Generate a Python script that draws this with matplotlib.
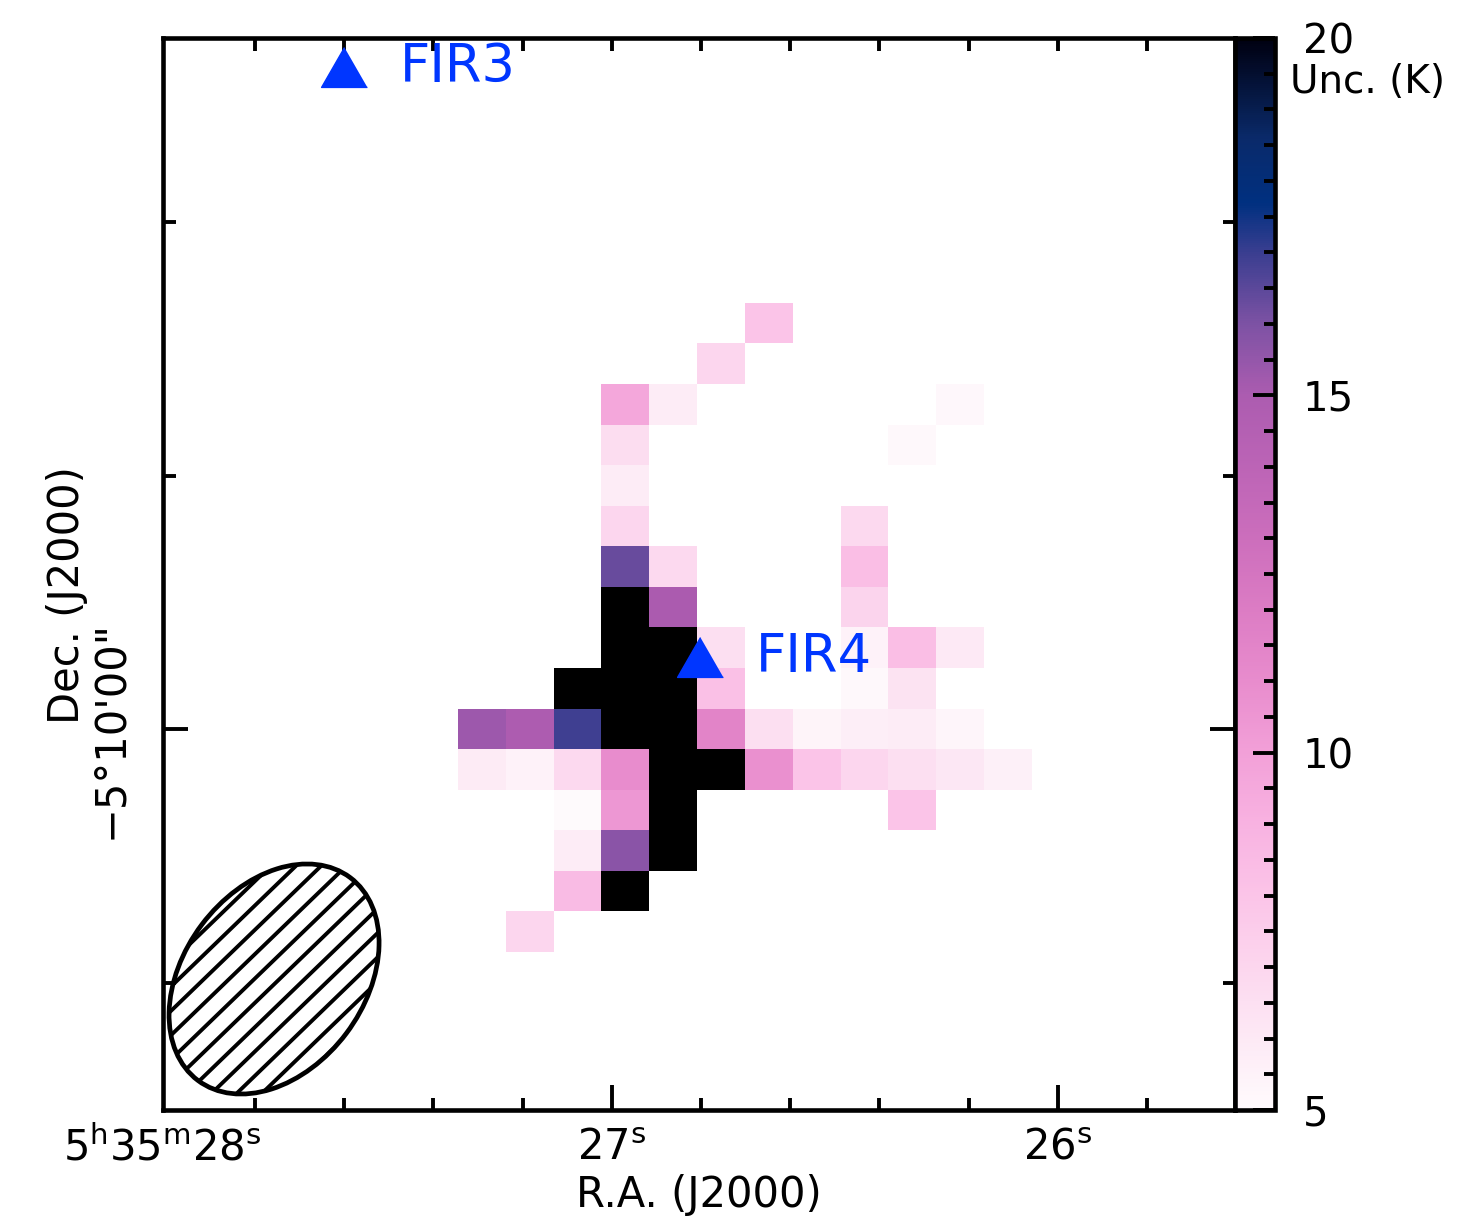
import numpy as np
import matplotlib
matplotlib.use('Agg')
import matplotlib.pyplot as plt
from matplotlib.colors import LinearSegmentedColormap, Normalize
from matplotlib.patches import Ellipse
from matplotlib.ticker import MultipleLocator
from matplotlib.transforms import ScaledTranslation

plt.rcParams['font.family'] = ['DejaVu Sans']
plt.rcParams['mathtext.fontset'] = 'dejavusans'
plt.rcParams['mathtext.default'] = 'regular'

n = np.nan
B = 25.0  # saturated (> 20 K) pixels, drawn black

# temperature uncertainty map (K), rows top -> bottom, 12 columns
unc = np.array([
    [n, n, n, n, n, n, 8.0, n, n, n, n, n],
    [n, n, n, n, n, 7.0, n, n, n, n, n, n],
    [n, n, n, 9.6, 5.8, n, n, n, n, n, 5.2, n],
    [n, n, n, 6.6, n, n, n, n, n, 5.15, n, n],
    [n, n, n, 5.8, n, n, n, n, n, n, n, n],
    [n, n, n, 7.0, n, n, n, n, 6.8, n, n, n],
    [n, n, n, 16.3, 6.8, n, n, n, 8.3, n, n, n],
    [n, n, n, B, 15.0, n, n, n, 7.1, n, n, n],
    [n, n, n, B, B, 6.5, n, n, 5.5, 8.3, 6.0, n],
    [n, n, B, B, B, 8.2, n, n, 5.15, 6.3, n, n],
    [15.3, 14.9, 16.9, B, B, 11.5, 6.5, 5.4, 5.7, 5.8, 5.3, n],
    [5.9, 5.5, 6.8, 11.0, B, B, 10.8, 8.0, 7.0, 6.5, 6.1, 5.6],
    [n, n, 5.05, 10.4, B, n, n, n, n, 8.0, n, n],
    [n, n, 5.8, 15.7, B, n, n, n, n, n, n, n],
    [n, n, 8.5, B, n, n, n, n, n, n, n, n],
    [n, 7.0, n, n, n, n, n, n, n, n, n, n],
])

# map frame in map-pixel units (column / row index)
x_lim = (-6.672, 15.755)
y_lim = (19.40, -7.068)

ra_ticks = -4.747 + 1.866 * np.arange(11)
ra_major = {0: '5$^{h}$35$^{m}$28$^{s}$', 4: '27$^{s}$', 9: '26$^{s}$'}
dec_ticks = -2.525 + 6.264 * np.arange(4)
dec_major = {2: '\u22125\u00b010\'00"'}

src_names = ['FIR3', 'FIR4']
src_x = [-2.885, 4.563]
src_y = [-6.364, 8.216]

beam_center = (0.1036, 0.1222)   # axes fraction
beam_size = (0.2366, 0.1687)
beam_pa = 53.1

# colour scale (K)
cvals = [5, 6, 7, 8, 9, 10, 11, 12, 13, 14, 15, 16, 17, 17.7, 18.6, 20]
ccols = ['#fffbfd', '#fde9f5', '#fcd6ee', '#fbc4e8', '#f8b2e1', '#f2a0d8',
         '#e88ccd', '#dc7cc4', '#cc6ebc', '#bc64b6', '#ac5cb0', '#7d52a4',
         '#3a3e90', '#003080', '#0a2a6a', '#000010']
cmap = LinearSegmentedColormap.from_list(
    'unc', [((v - 5) / 15.0, c) for v, c in zip(cvals, ccols)], N=512)
cmap.set_over('black')
cmap.set_bad((1, 1, 1, 0))

fig = plt.figure(figsize=(14.78, 12.26), dpi=100)
ax = fig.add_axes([163 / 1478, 1 - 1110 / 1226, 1072 / 1478, 1072 / 1226])

im = ax.imshow(np.ma.masked_invalid(unc), cmap=cmap, norm=Normalize(5, 20),
               extent=(-0.5, 11.5, 15.5, -0.5), aspect='auto',
               interpolation='nearest', zorder=1)
ax.set_xlim(*x_lim)
ax.set_ylim(*y_lim)

blue = '#0036ff'
for name, sx, sy in zip(src_names, src_x, src_y):
    ax.plot(sx, sy, marker=[(0, 1), (-1.15, -1), (1.15, -1)], ms=33,
            color=blue, mec=blue, ls='none', zorder=4)
    ax.annotate(name, (sx, sy), xytext=(40, 0), textcoords='offset points',
                ha='left', va='center', color=blue, fontsize=38, zorder=4)

# beam
beam = Ellipse(beam_center, *beam_size, angle=beam_pa, transform=ax.transAxes,
               fill=False, ec='black', lw=3.4, zorder=6)
ax.add_patch(beam)
slope = np.tan(np.radians(44))
step = 17.5 / 1072 / np.cos(np.radians(44))
xs = np.array([beam_center[0] - 0.2, beam_center[0] + 0.2])
for c in np.arange(-0.3, 0.3, step):
    ln, = ax.plot(xs, beam_center[1] + slope * (xs - beam_center[0]) + c,
                  transform=ax.transAxes, color='black', lw=2.8, zorder=5)
    ln.set_clip_path(beam)

# axes styling
for sp in ax.spines.values():
    sp.set_linewidth(3.3)

ax.set_xticks([ra_ticks[i] for i in ra_major])
ax.set_xticklabels(list(ra_major.values()))
ax.set_xticks([t for i, t in enumerate(ra_ticks) if i not in ra_major], minor=True)
ax.set_yticks([dec_ticks[i] for i in dec_major])
ax.set_yticklabels(list(dec_major.values()), rotation=90, va='center')
ax.set_yticks([t for i, t in enumerate(dec_ticks) if i not in dec_major], minor=True)

ax.tick_params(which='both', direction='in', top=True, right=True, width=2.8,
               labelsize=30)
ax.tick_params(which='major', length=18)
ax.tick_params(which='minor', length=9)
ax.tick_params(axis='x', which='major', pad=12)
ax.tick_params(axis='y', which='major', pad=23)

for t in ax.xaxis.get_major_ticks():
    t.tick2line.set_markersize(9)
ax.xaxis.get_major_ticks()[0].tick1line.set_markersize(9)

lab0 = ax.get_xticklabels()[0]
lab0.set_ha('right')
lab0.set_transform(lab0.get_transform() + ScaledTranslation(0.07, 0, fig.dpi_scale_trans))

ax.set_xlabel('R.A. (J2000)', fontsize=30, va='top')
ax.xaxis.set_label_coords(0.5, -0.060)
ax.set_ylabel('Dec. (J2000)', fontsize=30)
ax.yaxis.set_label_coords(-0.070, 0.480)

# colour bar
cax = fig.add_axes([1235 / 1478, 1 - 1110 / 1226, 40 / 1478, 1072 / 1226])
cb = fig.colorbar(im, cax=cax)
cb.set_ticks([5, 10, 15, 20])
cb.set_ticklabels(['5', '10', '15', '20'])
cb.minorlocator = MultipleLocator(0.5)
cb.outline.set_linewidth(3.3)
cax.tick_params(which='both', direction='in', right=True, left=False,
                width=2.8, labelsize=29, pad=20)
cax.tick_params(which='major', length=16)
cax.tick_params(which='minor', length=8)

fig.text(1290 / 1478, 1 - 82 / 1226, 'Unc. (K)', fontsize=28,
         ha='left', va='center')

fig.savefig('out.png', dpi=100)
